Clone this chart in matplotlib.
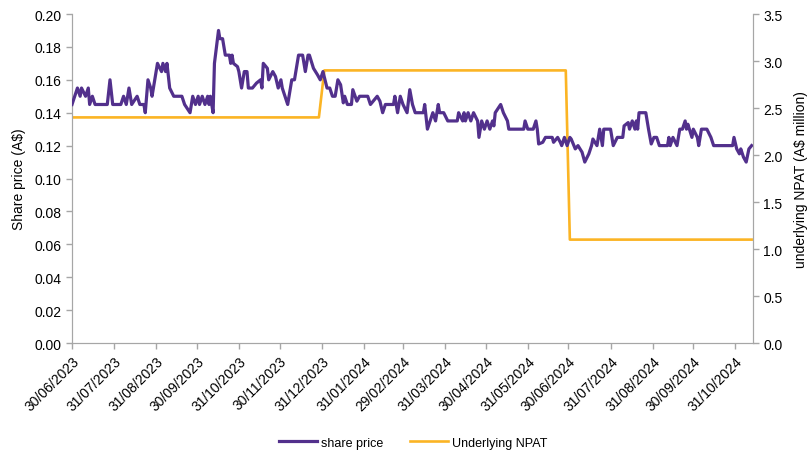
import numpy as np
import matplotlib
matplotlib.use('Agg')
import matplotlib.pyplot as plt
import matplotlib.dates as mdates
import matplotlib.ticker as mticker
import pandas as pd

plt.rcParams['font.family'] = ['Liberation Sans', 'DejaVu Sans']

# share price (A$)
price_dates = [
    '2023-06-30', '2023-07-04', '2023-07-06', '2023-07-07', '2023-07-10', '2023-07-12', '2023-07-13',
    '2023-07-15', '2023-07-17', '2023-07-26', '2023-07-28', '2023-07-30', '2023-08-05', '2023-08-07',
    '2023-08-09', '2023-08-11', '2023-08-13', '2023-08-17', '2023-08-19', '2023-08-22', '2023-08-23',
    '2023-08-25', '2023-08-27', '2023-08-28', '2023-08-30', '2023-09-01', '2023-09-04', '2023-09-05',
    '2023-09-07', '2023-09-08', '2023-09-10', '2023-09-13', '2023-09-19', '2023-09-21', '2023-09-25',
    '2023-09-27', '2023-09-29', '2023-10-01', '2023-10-02', '2023-10-04', '2023-10-06', '2023-10-08',
    '2023-10-09', '2023-10-10', '2023-10-12', '2023-10-13', '2023-10-16', '2023-10-17', '2023-10-19',
    '2023-10-21', '2023-10-24', '2023-10-25', '2023-10-26', '2023-10-27', '2023-10-30', '2023-10-31',
    '2023-11-02', '2023-11-04', '2023-11-06', '2023-11-07', '2023-11-10', '2023-11-13', '2023-11-16',
    '2023-11-17', '2023-11-18', '2023-11-21', '2023-11-22', '2023-11-25', '2023-11-27', '2023-11-29',
    '2023-12-01', '2023-12-02', '2023-12-04', '2023-12-06', '2023-12-08', '2023-12-09', '2023-12-11',
    '2023-12-13', '2023-12-14', '2023-12-17', '2023-12-19', '2023-12-21', '2023-12-22', '2023-12-25',
    '2023-12-28', '2023-12-30', '2024-01-01', '2024-01-04', '2024-01-06', '2024-01-08', '2024-01-10',
    '2024-01-12', '2024-01-14', '2024-01-16', '2024-01-17', '2024-01-19', '2024-01-22', '2024-01-23',
    '2024-01-26', '2024-01-28', '2024-02-03', '2024-02-05', '2024-02-07', '2024-02-10', '2024-02-12',
    '2024-02-14', '2024-02-16', '2024-02-22', '2024-02-23', '2024-02-25', '2024-02-27', '2024-02-29',
    '2024-03-03', '2024-03-05', '2024-03-07', '2024-03-09', '2024-03-15', '2024-03-16', '2024-03-18',
    '2024-03-20', '2024-03-22', '2024-03-24', '2024-03-26', '2024-03-27', '2024-03-30', '2024-04-02',
    '2024-04-05', '2024-04-09', '2024-04-10', '2024-04-13', '2024-04-14', '2024-04-15', '2024-04-17',
    '2024-04-19', '2024-04-21', '2024-04-24', '2024-04-25', '2024-04-27', '2024-04-29', '2024-05-01',
    '2024-05-03', '2024-05-05', '2024-05-06', '2024-05-07', '2024-05-11', '2024-05-13', '2024-05-16',
    '2024-05-17', '2024-05-28', '2024-05-29', '2024-05-31', '2024-06-04', '2024-06-06', '2024-06-07',
    '2024-06-08', '2024-06-11', '2024-06-13', '2024-06-18', '2024-06-19', '2024-06-22', '2024-06-24',
    '2024-06-25', '2024-06-27', '2024-06-29', '2024-07-01', '2024-07-02', '2024-07-03', '2024-07-05',
    '2024-07-07', '2024-07-10', '2024-07-12', '2024-07-15', '2024-07-17', '2024-07-18', '2024-07-21',
    '2024-07-23', '2024-07-25', '2024-07-26', '2024-07-31', '2024-08-02', '2024-08-05', '2024-08-09',
    '2024-08-10', '2024-08-13', '2024-08-14', '2024-08-16', '2024-08-18', '2024-08-19', '2024-08-20',
    '2024-08-21', '2024-08-26', '2024-08-28', '2024-08-30', '2024-09-01', '2024-09-03', '2024-09-05',
    '2024-09-11', '2024-09-12', '2024-09-13', '2024-09-15', '2024-09-18', '2024-09-20', '2024-09-22',
    '2024-09-24', '2024-09-25', '2024-09-26', '2024-09-29', '2024-09-30', '2024-10-03', '2024-10-04',
    '2024-10-06', '2024-10-10', '2024-10-13', '2024-10-15', '2024-10-29', '2024-10-30', '2024-11-01',
    '2024-11-03', '2024-11-04', '2024-11-06', '2024-11-08', '2024-11-10', '2024-11-12',
]
price = [
    0.145, 0.155, 0.150, 0.155, 0.150, 0.155, 0.145,
    0.150, 0.145, 0.145, 0.160, 0.145, 0.145, 0.150,
    0.145, 0.155, 0.145, 0.150, 0.145, 0.145, 0.140,
    0.160, 0.155, 0.150, 0.160, 0.170, 0.165, 0.170,
    0.165, 0.170, 0.155, 0.150, 0.150, 0.145, 0.140,
    0.150, 0.145, 0.150, 0.145, 0.150, 0.145, 0.150,
    0.145, 0.150, 0.140, 0.170, 0.190, 0.185, 0.185,
    0.175, 0.175, 0.170, 0.175, 0.170, 0.168, 0.165,
    0.155, 0.165, 0.165, 0.155, 0.155, 0.158, 0.160,
    0.155, 0.170, 0.167, 0.160, 0.165, 0.162, 0.155,
    0.160, 0.155, 0.150, 0.145, 0.155, 0.160, 0.160,
    0.170, 0.175, 0.175, 0.165, 0.175, 0.175, 0.167,
    0.163, 0.160, 0.165, 0.155, 0.155, 0.150, 0.150,
    0.160, 0.157, 0.146, 0.150, 0.145, 0.145, 0.154,
    0.147, 0.150, 0.150, 0.145, 0.147, 0.150, 0.147,
    0.140, 0.145, 0.145, 0.150, 0.140, 0.150, 0.145,
    0.140, 0.154, 0.145, 0.140, 0.140, 0.145, 0.130,
    0.135, 0.140, 0.135, 0.145, 0.140, 0.140, 0.135,
    0.135, 0.135, 0.140, 0.135, 0.140, 0.135, 0.140,
    0.135, 0.140, 0.135, 0.125, 0.135, 0.130, 0.135,
    0.130, 0.135, 0.132, 0.140, 0.145, 0.140, 0.135,
    0.130, 0.130, 0.135, 0.130, 0.130, 0.135, 0.130,
    0.121, 0.122, 0.125, 0.125, 0.122, 0.125, 0.122,
    0.120, 0.125, 0.120, 0.125, 0.124, 0.122, 0.118,
    0.120, 0.116, 0.110, 0.115, 0.120, 0.124, 0.120,
    0.130, 0.120, 0.130, 0.130, 0.120, 0.125, 0.125,
    0.132, 0.134, 0.130, 0.135, 0.130, 0.135, 0.130,
    0.140, 0.140, 0.130, 0.121, 0.125, 0.125, 0.120,
    0.120, 0.125, 0.120, 0.125, 0.120, 0.130, 0.130,
    0.135, 0.130, 0.133, 0.125, 0.130, 0.125, 0.120,
    0.130, 0.130, 0.125, 0.120, 0.120, 0.125, 0.118,
    0.115, 0.118, 0.113, 0.110, 0.118, 0.120,
]

# underlying NPAT (A$ million)
npat_dates = ['2023-06-30', '2023-12-29', '2024-01-02', '2024-06-28', '2024-07-01', '2024-11-12']
npat = [2.4, 2.4, 2.9, 2.9, 1.1, 1.1]

tick_dates = ['2023-06-30', '2023-07-31', '2023-08-31', '2023-09-30', '2023-10-31', '2023-11-30',
              '2023-12-31', '2024-01-31', '2024-02-29', '2024-03-31', '2024-04-30', '2024-05-31',
              '2024-06-30', '2024-07-31', '2024-08-31', '2024-09-30', '2024-10-31']

purple = '#52308c'
orange = '#fbb424'
grey = '#a6a6a6'

fig = plt.figure(figsize=(8.1, 4.52), dpi=100)
ax = fig.add_axes([0.0889, 0.2389, 0.8407, 0.7279])
ax2 = ax.twinx()

l1, = ax.plot(pd.to_datetime(price_dates), price, color=purple, lw=2.3, label='share price', zorder=3)
l2, = ax2.plot(pd.to_datetime(npat_dates), npat, color=orange, lw=1.9, label='Underlying NPAT')
ax.set_zorder(ax2.get_zorder() + 1)
ax.patch.set_visible(False)

ax.set_xlim(pd.Timestamp('2023-06-30'), pd.Timestamp('2024-11-13'))
ax.set_ylim(0, 0.20)
ax2.set_ylim(0, 3.5)
ax.set_yticks(np.arange(0, 0.201, 0.02))
ax2.set_yticks(np.arange(0, 3.51, 0.5))
ax.yaxis.set_major_formatter(mticker.FormatStrFormatter('%.2f'))
ax2.yaxis.set_major_formatter(mticker.FormatStrFormatter('%.1f'))

ticks = pd.to_datetime(tick_dates)
ax.set_xticks(ticks)
ax.set_xticklabels([t.strftime('%d/%m/%Y') for t in ticks], rotation=45, ha='right',
                   rotation_mode='anchor', fontsize=9.5)

for a in (ax, ax2):
    for s in a.spines.values():
        s.set_color(grey)
    a.spines['top'].set_visible(False)
    a.tick_params(colors=grey, labelcolor='black', labelsize=10, length=4, width=1)

ax.set_ylabel('Share price (A$)', fontsize=10, labelpad=6)
ax2.set_ylabel('underlying NPAT (A$ million)', fontsize=10, labelpad=8)

fig.legend(handles=[l1, l2], loc='lower center', bbox_to_anchor=(0.51, -0.02), ncol=2,
           frameon=False, fontsize=9, handlelength=3, handletextpad=0.3, columnspacing=2.2)

fig.savefig('out.png', dpi=100)
